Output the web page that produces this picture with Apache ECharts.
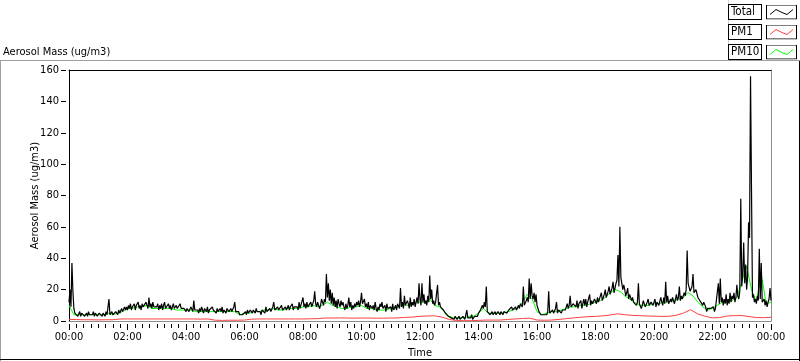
<!DOCTYPE html>
<html>
<head>
<meta charset="utf-8">
<script src="https://cdn.jsdelivr.net/npm/echarts@6/dist/echarts.min.js"></script>
<style>
html,body{margin:0;padding:0;background:#fff;}
#chart{width:800px;height:361px;}
</style>
</head>
<body>
<div id="chart"></div>
<script>
// ---- DATA ----
// Total: one value every 2 minutes from 00:00 to 24:00 (30 per hour row)
const totalStepMin = 2;
const totalValues = [
  12, 20, 9, 37, 19, 8, 5, 4, 6, 3, 4, 6, 3, 5, 4, 6, 3, 4, 5, 3, 6, 4, 3, 5, 4, 6, 3, 5, 4, 3,
  3, 5, 4, 6, 3, 5, 4, 3, 6, 4, 5, 14, 4, 3, 6, 4, 5, 3, 6, 5, 4, 7, 5, 6, 8, 6, 7, 9, 7, 9,
  7, 10, 8, 11, 7, 9, 8, 11, 7, 10, 9, 12, 8, 10, 7, 11, 9, 10, 8, 12, 10, 8, 15, 9, 11, 8, 12, 9, 10, 8,
  9, 11, 7, 10, 8, 11, 7, 10, 12, 8, 9, 7, 11, 8, 10, 7, 9, 11, 8, 7, 10, 8, 9, 7, 11, 8, 7, 9, 8, 7,
  6, 8, 9, 6, 7, 9, 8, 6, 13, 7, 6, 8, 7, 5, 8, 6, 9, 7, 5, 8, 7, 6, 9, 5, 7, 8, 6, 9, 7, 6,
  7, 5, 8, 6, 5, 8, 6, 9, 5, 7, 6, 5, 8, 7, 6, 5, 8, 6, 7, 9, 12, 6, 7, 5, 6, 4, 5, 3, 4, 5,
  5, 6, 4, 7, 5, 4, 7, 6, 5, 7, 6, 5, 8, 6, 5, 7, 6, 4, 7, 6, 8, 5, 9, 6, 7, 5, 8, 6, 7, 9,
  12, 7, 8, 6, 9, 7, 6, 8, 10, 7, 8, 6, 9, 7, 8, 10, 7, 9, 8, 11, 7, 9, 10, 8, 9, 7, 12, 8, 9, 8,
  15, 9, 11, 8, 12, 9, 10, 8, 12, 9, 10, 13, 19, 11, 9, 12, 13, 8, 10, 14, 12, 10, 14, 12, 30, 15, 24, 13, 20, 11,
  18, 10, 15, 9, 13, 8, 14, 11, 9, 13, 10, 12, 9, 7, 11, 8, 10, 15, 9, 12, 7, 10, 8, 11, 9, 12, 10, 13, 9, 12,
  18, 11, 12, 14, 9, 11, 8, 12, 7, 10, 9, 8, 10, 7, 12, 8, 6, 9, 7, 11, 9, 12, 8, 7, 10, 6, 11, 8, 9, 7,
  9, 6, 11, 7, 8, 10, 7, 11, 10, 8, 21, 9, 12, 8, 16, 10, 9, 13, 11, 8, 15, 9, 12, 10, 14, 9, 12, 15, 11, 24,
  14, 10, 24, 12, 17, 11, 13, 10, 16, 12, 29, 14, 20, 11, 13, 10, 12, 11, 23, 10, 12, 9, 8, 10, 7, 6, 5, 4, 5, 3,
  3, 4, 2, 3, 2, 1, 3, 2, 1, 2, 3, 1, 2, 1, 3, 2, 1, 2, 7, 2, 1, 3, 2, 4, 1, 2, 3, 2, 4, 3,
  5, 4, 7, 6, 10, 8, 12, 9, 22, 6, 5, 6, 4, 5, 6, 4, 5, 6, 4, 5, 6, 5, 4, 6, 5, 4, 6, 5, 6, 5,
  6, 7, 8, 6, 9, 7, 6, 8, 9, 7, 8, 10, 8, 11, 10, 9, 22, 10, 11, 13, 15, 12, 27, 14, 24, 16, 14, 18, 12, 17,
  10, 8, 6, 5, 4, 5, 3, 4, 5, 3, 4, 6, 19, 5, 6, 4, 7, 5, 6, 8, 12, 5, 7, 6, 8, 5, 7, 6, 8, 7,
  9, 11, 8, 10, 16, 9, 8, 11, 10, 12, 9, 13, 8, 11, 10, 13, 8, 11, 14, 10, 14, 9, 12, 11, 17, 10, 13, 11, 12, 14,
  13, 11, 15, 12, 11, 16, 18, 13, 14, 17, 20, 15, 16, 19, 22, 17, 19, 21, 25, 18, 21, 24, 26, 42, 22, 60, 28, 24, 20, 23,
  20, 16, 18, 21, 14, 17, 18, 13, 15, 12, 13, 11, 10, 12, 24, 11, 12, 8, 10, 13, 11, 9, 8, 12, 14, 10, 9, 12, 11, 10,
  10, 14, 9, 12, 13, 10, 11, 15, 12, 10, 15, 11, 25, 12, 16, 11, 10, 14, 12, 15, 14, 11, 12, 17, 13, 15, 22, 13, 16, 14,
  15, 18, 16, 20, 45, 24, 25, 19, 20, 22, 30, 18, 17, 20, 19, 15, 14, 16, 12, 13, 10, 12, 11, 9, 6, 8, 9, 7, 8, 7,
  7, 9, 6, 8, 9, 7, 24, 11, 27, 12, 15, 10, 14, 11, 17, 10, 14, 11, 18, 12, 16, 14, 18, 12, 15, 23, 16, 14, 19, 78,
  22, 30, 50, 24, 36, 20, 28, 63, 53, 156, 84, 15, 17, 12, 14, 11, 16, 13, 46, 14, 37, 12, 11, 14, 10, 13, 9, 12, 14, 21,
  13
];
// PM10: one value every 10 minutes (6 per hour row)
const pm10StepMin = 10;
const pm10Values = [
  10, 4, 4, 4, 4, 4,
  4, 4, 5, 4, 5, 6,
  8, 8, 9, 9, 10, 8,
  8, 8, 8, 8, 7, 7,
  7, 7, 6, 6, 6, 6,
  6, 6, 6, 6, 6, 4,
  5, 5, 6, 6, 7, 7,
  8, 7, 7, 8, 8, 8,
  9, 9, 10, 9, 10, 12,
  10, 9, 8, 8, 9, 9,
  10, 8, 8, 7, 7, 7,
  8, 8, 10, 10, 10, 12,
  12, 12, 14, 10, 9, 6,
  3, 2, 2, 2, 3, 3,
  5, 8, 5, 5, 5, 5,
  6, 7, 8, 12, 17, 14,
  6, 4, 5, 6, 6, 7,
  8, 9, 9, 10, 10, 11,
  12, 13, 15, 18, 20, 19,
  16, 14, 12, 10, 10, 10,
  11, 11, 12, 12, 13, 14,
  15, 18, 16, 12, 9, 7,
  8, 10, 12, 12, 13, 15,
  25, 35, 20, 12, 30, 11,
  12
];
// PM1: one value every 15 minutes (4 per hour row)
const pm1StepMin = 15;
const pm1Values = [
  1.0, 0.9, 0.8, 0.8,
  0.7, 0.8, 0.8, 1.3,
  1.3, 1.3, 1.3, 1.3,
  1.3, 1.3, 1.3, 1.3,
  1.3, 1.3, 1.2, 1.3,
  0.5, 0.4, 0.5, 0.5,
  0.6, 1.2, 1.3, 1.3,
  1.3, 1.3, 1.3, 1.3,
  1.3, 1.4, 1.5, 1.9,
  1.9, 2.0, 1.9, 1.8,
  1.9, 1.9, 1.8, 1.8,
  1.9, 2.0, 2.3, 2.5,
  3.0, 3.2, 3.3, 2.5,
  1.0, 0.3, 0.2, 0.2,
  0.4, 0.6, 0.6, 0.6,
  1.0, 1.3, 1.6, 1.8,
  0.6, 0.5, 0.6, 1.0,
  1.5, 2.0, 2.4, 2.8,
  2.9, 3.3, 3.8, 4.6,
  4.0, 3.6, 3.4, 3.2,
  3.1, 2.9, 3.0, 3.6,
  5.0, 7.2, 4.5, 3.0,
  2.0, 2.2, 3.2, 3.4,
  3.5, 2.8, 2.2, 2.1,
  2.4
];
const xTickLabels = ['00:00','02:00','04:00','06:00','08:00','10:00','12:00',
                     '14:00','16:00','18:00','20:00','22:00','00:00'];
const yTicks = [0, 20, 40, 60, 80, 100, 120, 140, 160];
const seriesNames = ['Total', 'PM1', 'PM10'];
const seriesColors = {Total: '#000000', PM1: '#ff4040', PM10: '#00ff00'};

// ---- BUILD ----
const toPairs = (vals, step) => vals.map((v, i) => [i * step, v]);
const FONT = "'DejaVu Sans Condensed', 'Liberation Sans', Arial, sans-serif";

function legendIcon(color) {
  const svg = '<svg xmlns="http://www.w3.org/2000/svg" width="31" height="15">' +
    '<rect x="0.5" y="0.5" width="30" height="14" fill="#fff" stroke="#000" stroke-width="1"/>' +
    '<polyline points="4,10 10,5 16,8 21,10 27,5" fill="none" stroke="' + color + '" stroke-width="1"/>' +
    '</svg>';
  return 'image://data:image/svg+xml;charset=utf-8,' + encodeURIComponent(svg);
}

const xBase = {type: 'value', min: 0, max: 1440, interval: 120};
const yBase = {type: 'value', min: yTicks[0], max: yTicks[yTicks.length - 1], interval: 20};
const noDeco = {axisTick: {show: false}, axisLabel: {show: false}, splitLine: {show: false}};

const chart = echarts.init(document.getElementById('chart'), null, {renderer: 'canvas'});
chart.setOption({
  animation: false,
  backgroundColor: '#ffffff',
  textStyle: {fontFamily: FONT},
  title: {
    text: 'Aerosol Mass (ug/m3)',
    left: 1, top: 45, padding: 2,
    textStyle: {fontSize: 11, fontWeight: 'normal', color: '#000', fontFamily: FONT}
  },
  legend: {
    orient: 'vertical', right: 3, top: 4, padding: 0,
    itemWidth: 31, itemHeight: 15, itemGap: 4, align: 'right',
    selectedMode: false,
    formatter: name => '{t|' + name + '}',
    textStyle: {
      color: '#000', fontFamily: FONT, fontSize: 12,
      backgroundColor: '#fff', borderColor: '#000', borderWidth: 1,
      padding: [1, 2, 0, 2],
      rich: {t: {width: 28, height: 13, lineHeight: 13, align: 'left', fontSize: 11.5, color: '#000', fontFamily: FONT}}
    },
    data: seriesNames.map(n => ({name: n, icon: legendIcon(seriesColors[n])}))
  },
  grid: {left: 69, right: 29, top: 70, bottom: 40, containLabel: false, outerBoundsMode: 'none'},
  xAxis: [
    Object.assign({}, xBase, noDeco, {
      position: 'bottom',
      axisLine: {show: true, onZero: false, lineStyle: {color: '#8c8c8c', width: 1}}
    }),
    Object.assign({}, xBase, {
      position: 'bottom', offset: 3,
      axisLine: {show: false, onZero: false},
      axisTick: {show: true, length: 6, lineStyle: {color: '#000'}},
      minorTick: {show: true, splitNumber: 8, length: 4, lineStyle: {color: '#000'}},
      axisLabel: {
        margin: 8, fontSize: 11, color: '#000', fontFamily: FONT,
        formatter: v => xTickLabels[Math.round(v / 120)]
      },
      splitLine: {show: false},
      name: 'Time', nameLocation: 'middle', nameGap: 24, nameMoveOverlap: false,
      nameTextStyle: {fontSize: 11, color: '#000', fontFamily: FONT}
    }),
    Object.assign({}, xBase, noDeco, {
      position: 'top',
      axisLine: {show: true, onZero: false, lineStyle: {color: '#000', width: 1}}
    })
  ],
  yAxis: [
    Object.assign({}, yBase, noDeco, {
      position: 'left',
      axisLine: {show: true, onZero: false, lineStyle: {color: '#000', width: 1}}
    }),
    Object.assign({}, yBase, {
      position: 'left', offset: 3,
      axisLine: {show: false, onZero: false},
      axisTick: {show: true, length: 5, lineStyle: {color: '#000'}},
      axisLabel: {margin: 7, fontSize: 11, color: '#000', fontFamily: FONT},
      splitLine: {show: false},
      name: 'Aerosol Mass (ug/m3)', nameLocation: 'middle', nameGap: 25, nameRotate: 90,
      nameMoveOverlap: false,
      nameTextStyle: {fontSize: 11, color: '#000', fontFamily: FONT}
    }),
    Object.assign({}, yBase, noDeco, {
      position: 'right',
      axisLine: {show: true, onZero: false, lineStyle: {color: '#8c8c8c', width: 1}}
    })
  ],
  graphic: [
    {type: 'line', silent: true, shape: {x1: 0, y1: 60.5, x2: 800, y2: 60.5}, style: {stroke: '#a0a0a0', lineWidth: 1}},
    {type: 'line', silent: true, shape: {x1: 0.5, y1: 60, x2: 0.5, y2: 361}, style: {stroke: '#a0a0a0', lineWidth: 1}},
    {type: 'line', silent: true, shape: {x1: 799.5, y1: 61, x2: 799.5, y2: 361}, style: {stroke: '#000', lineWidth: 1}},
    {type: 'line', silent: true, shape: {x1: 0, y1: 359.5, x2: 800, y2: 359.5}, style: {stroke: '#000', lineWidth: 1}},
    {type: 'line', silent: true, shape: {x1: 728.5, y1: 0, x2: 728.5, y2: 60}, style: {stroke: '#d4d4d4', lineWidth: 1}}
  ],
  series: [
    {name: 'PM10', type: 'line', xAxisIndex: 0, yAxisIndex: 0, showSymbol: false, symbol: 'none',
     lineStyle: {color: seriesColors.PM10, width: 1}, itemStyle: {color: seriesColors.PM10},
     data: toPairs(pm10Values, pm10StepMin), z: 2},
    {name: 'Total', type: 'line', xAxisIndex: 0, yAxisIndex: 0, showSymbol: false, symbol: 'none',
     lineStyle: {color: seriesColors.Total, width: 1.2}, itemStyle: {color: seriesColors.Total},
     data: toPairs(totalValues, totalStepMin), z: 3},
    {name: 'PM1', type: 'line', xAxisIndex: 0, yAxisIndex: 0, showSymbol: false, symbol: 'none',
     lineStyle: {color: seriesColors.PM1, width: 1}, itemStyle: {color: seriesColors.PM1},
     data: toPairs(pm1Values, pm1StepMin), z: 4}
  ]
});
</script>
</body>
</html>
